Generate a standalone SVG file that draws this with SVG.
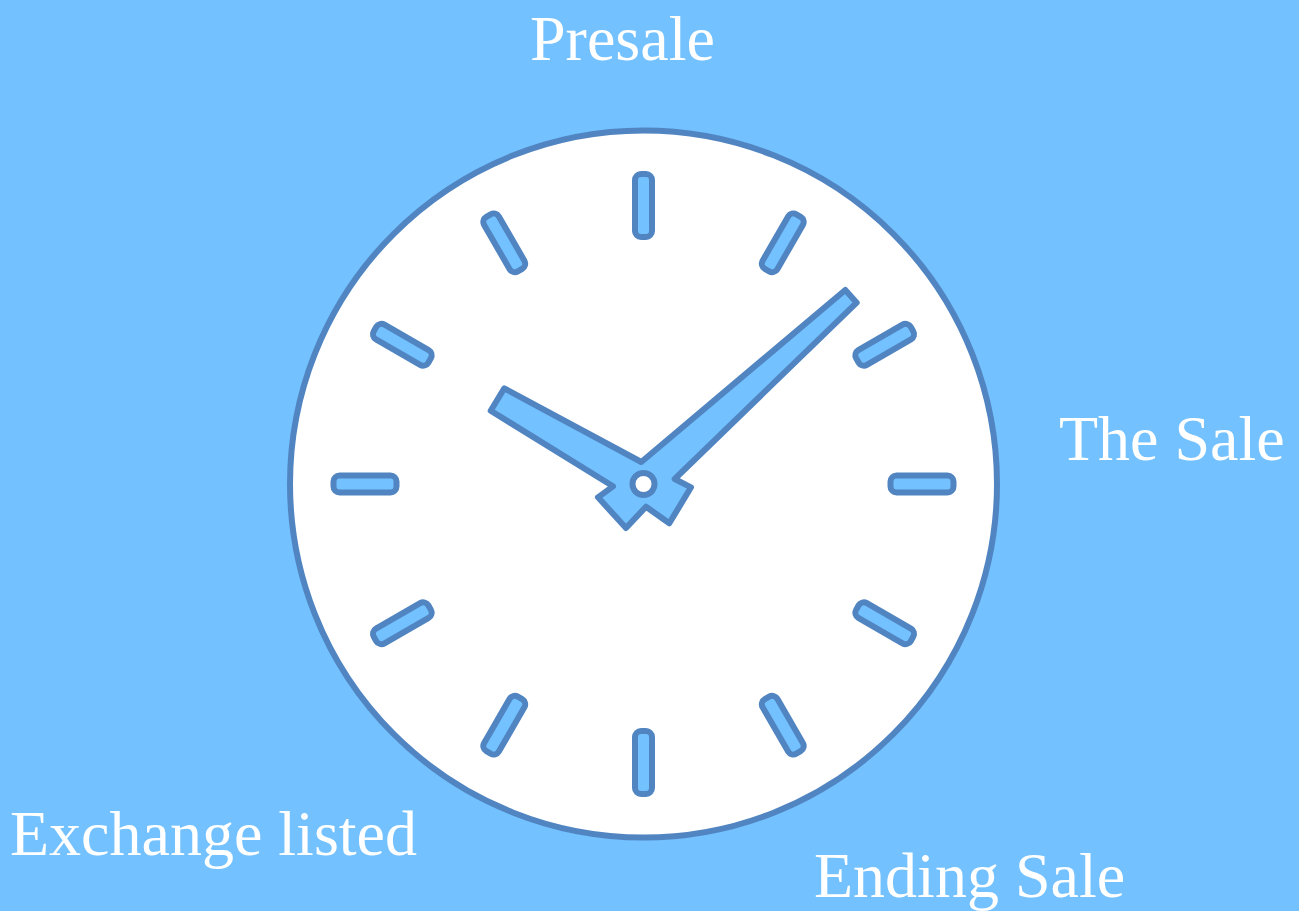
<svg xmlns="http://www.w3.org/2000/svg" width="1299" height="911" viewBox="0 0 1299 911">
<style>
.s{stroke:#5185c2;stroke-width:6;stroke-linejoin:round}
.b{fill:#73c1ff}
.t{font-family:"Liberation Serif","Times New Roman",serif;font-size:64px;fill:#fff}
</style>
<defs><rect id="tick" class="s b" x="635" y="174" width="17" height="63" rx="6"/></defs>
<rect width="1299" height="911" fill="#73c1ff"/>
<g id="clock">
<circle class="s" cx="643.5" cy="484" r="353.5" fill="#fff"/>
<g id="ticks">
<use href="#tick"/>
<use href="#tick" transform="rotate(30 643.5 484)"/>
<use href="#tick" transform="rotate(60 643.5 484)"/>
<use href="#tick" transform="rotate(90 643.5 484)"/>
<use href="#tick" transform="rotate(120 643.5 484)"/>
<use href="#tick" transform="rotate(150 643.5 484)"/>
<use href="#tick" transform="rotate(180 643.5 484)"/>
<use href="#tick" transform="rotate(210 643.5 484)"/>
<use href="#tick" transform="rotate(240 643.5 484)"/>
<use href="#tick" transform="rotate(270 643.5 484)"/>
<use href="#tick" transform="rotate(300 643.5 484)"/>
<use href="#tick" transform="rotate(330 643.5 484)"/>
</g>
<path id="hands" class="s b" d="M845.3 290L856.7 302.7L674.7 479L691 487.3L669.3 523.3L646 506.7L626 528L598 497.3L613 486.3L490.7 410.7L504.3 388.3L641.3 462Z"/>
<circle id="hub" class="s" cx="643.5" cy="484" r="11" fill="#fff"/>
</g>
<text class="t" x="530" y="60">Presale</text>
<text class="t" x="1059" y="460">The Sale</text>
<text class="t" x="814" y="897">Ending Sale</text>
<text class="t" x="10" y="855">Exchange listed</text>
</svg>
